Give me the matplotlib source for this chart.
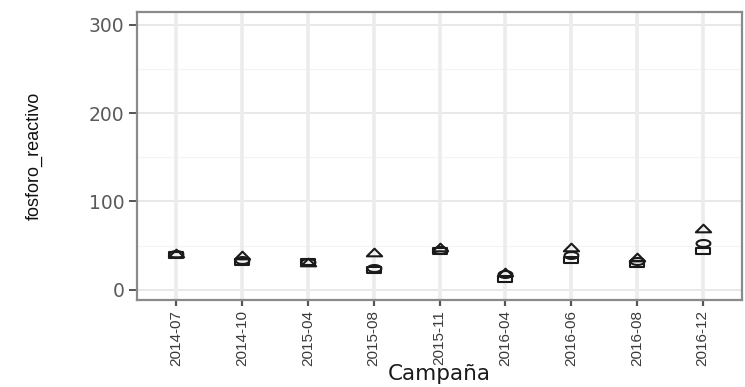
import matplotlib
matplotlib.use("Agg")
import matplotlib.pyplot as plt
from matplotlib.path import Path
import numpy as np

# Sampling campaigns and reactive phosphorus readings per station
campaigns = ["2014-07", "2014-10", "2015-04", "2015-08", "2015-11",
             "2016-04", "2016-06", "2016-08", "2016-12"]
station_tri = [42, 39, 32, 43, 48, 20, 48, 37, 70]
station_circ = [41, 34, 31, 25, 45, 18, 40, 33, 53]
station_sq = [40, 31, 31, 22, 44, 12, 34, 29, 44]
y_ticks = [0, 100, 200, 300]

# Wide (flattened) open marker shapes
tri_marker = Path([(-1, -0.5), (1, -0.5), (0, 0.5), (-1, -0.5)],
                  [Path.MOVETO, Path.LINETO, Path.LINETO, Path.CLOSEPOLY])
sq_marker = Path([(-1, -0.5), (1, -0.5), (1, 0.5), (-1, 0.5), (-1, -0.5)],
                 [Path.MOVETO, Path.LINETO, Path.LINETO, Path.LINETO, Path.CLOSEPOLY])
th = np.linspace(0, 2 * np.pi, 41)
circ_marker = Path(np.column_stack([np.cos(th), 0.5 * np.sin(th)]))

fig = plt.figure(figsize=(7.45, 3.87), dpi=100)
ax = fig.add_axes([137 / 745, 1 - 300 / 387, 605 / 745, 288 / 387])

x = np.arange(len(campaigns))

# grid (major + minor horizontal, major vertical)
for v in [50, 150, 250]:
    ax.axhline(v, color="#f3f3f3", lw=0.8, zorder=0)
for v in y_ticks:
    ax.axhline(v, color="#e6e6e6", lw=1.3, zorder=0)
for xi in x:
    ax.axvline(xi, color="#ececec", lw=2.6, zorder=0)

style = dict(linestyle="none", markerfacecolor="none", markeredgecolor="#1a1a1a",
             markeredgewidth=1.5, zorder=3)
ax.plot(x, station_sq, marker=sq_marker, markersize=10, **style)
ax.plot(x, station_circ, marker=circ_marker, markersize=10, **style)
ax.plot(x, station_tri, marker=tri_marker, markersize=11, **style)

ax.set_xlim(-0.6, len(campaigns) - 0.4)
ax.set_ylim(-11.5, 314.5)
ax.set_xticks(x)
ax.set_xticklabels(campaigns, rotation=90, fontsize=11,
                   family="Liberation Sans", color="#3a3a3a")
ax.set_yticks(y_ticks)
ax.set_yticklabels([str(v) for v in y_ticks], fontsize=13.5,
                   family="DejaVu Sans", color="#5a5a5a")

for s in ax.spines.values():
    s.set_color("#8a8a8a")
    s.set_linewidth(1.6)

ax.tick_params(axis="y", length=6, width=1.4, color="#555555", pad=3)
ax.tick_params(axis="x", length=4, width=1.6, color="#555555", pad=3)

ax.set_ylabel("fosforo_reactivo", fontsize=13, family="Liberation Sans",
              color="#111111")
ax.yaxis.set_label_coords(-0.155, 0.5)
ax.set_xlabel("Campaña", fontsize=15.5, family="DejaVu Sans", color="#1a1a1a")
ax.xaxis.set_label_coords(0.5, -0.222)

fig.savefig("out.png", dpi=100)
